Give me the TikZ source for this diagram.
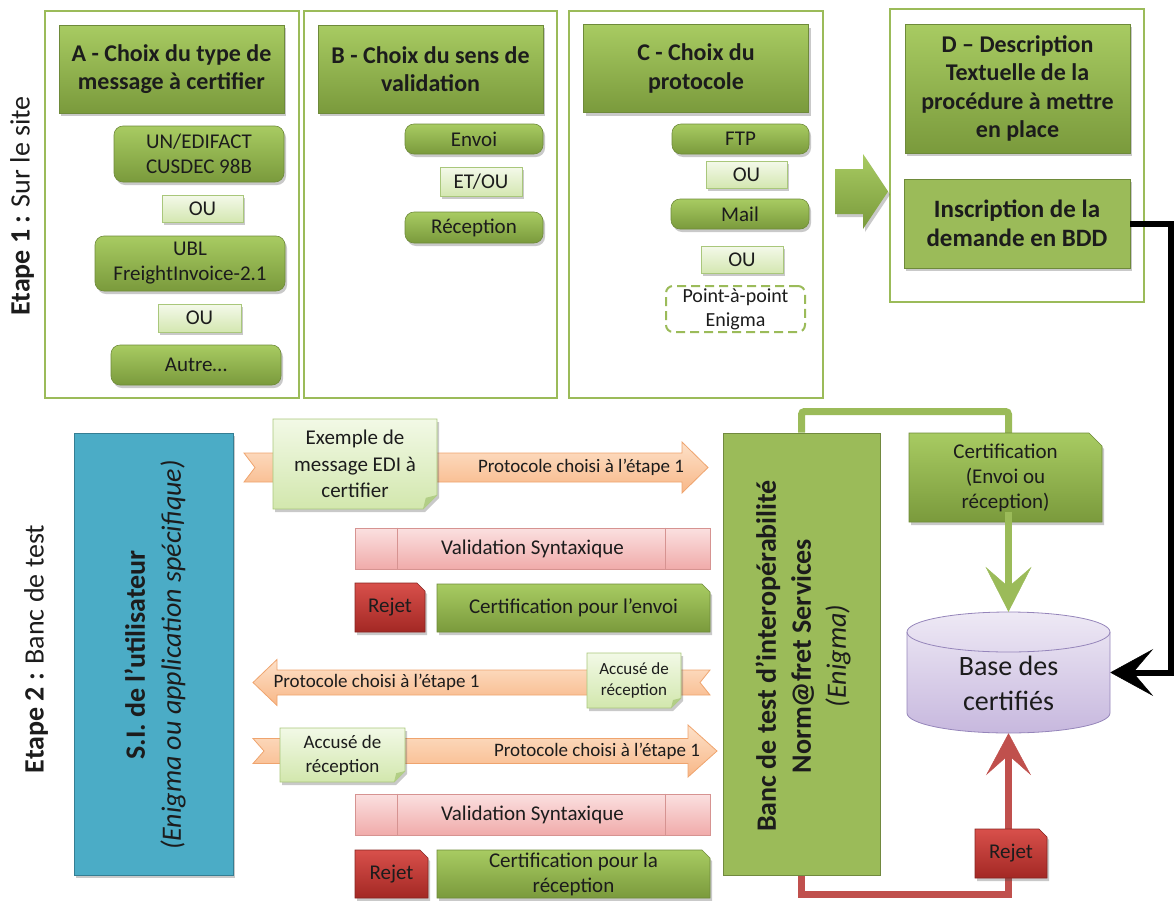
\documentclass[tikz,border=0pt]{standalone}
\usepackage{fontspec}
\setmainfont{Carlito}
\usetikzlibrary{arrows.meta,shadows,calc}
\definecolor{gTop}{HTML}{A8CB62}
\definecolor{gBot}{HTML}{7A9A3C}
\definecolor{gBorder}{HTML}{6E8A3A}
\definecolor{pBorder}{HTML}{9BBB59}
\definecolor{ouTop}{HTML}{F4F9EA}
\definecolor{ouBot}{HTML}{D4E7B1}
\definecolor{ouBorder}{HTML}{A9C77B}
\definecolor{noteTop}{HTML}{F2F9E6}
\definecolor{noteBot}{HTML}{D2E7AD}
\definecolor{noteFold}{HTML}{B2CE86}
\definecolor{orTop}{HTML}{FDE1C9}
\definecolor{orBot}{HTML}{F8B787}
\definecolor{orBorder}{HTML}{EFA46E}
\definecolor{pkTop}{HTML}{FBE0E0}
\definecolor{pkBot}{HTML}{F0ABAA}
\definecolor{pkBorder}{HTML}{D69391}
\definecolor{rdTop}{HTML}{D8504B}
\definecolor{rdBot}{HTML}{A32824}
\definecolor{rdBorder}{HTML}{872420}
\definecolor{cyTop}{HTML}{EEE9F5}
\definecolor{cyBot}{HTML}{C7B8DE}
\definecolor{cyBorder}{HTML}{9585BA}
\definecolor{siFill}{HTML}{4BACC6}
\definecolor{siBorder}{HTML}{357E93}
\definecolor{bancFill}{HTML}{9BBB59}
\definecolor{bancBorder}{HTML}{71893F}
\definecolor{gLine}{HTML}{9BBB59}
\definecolor{rLine}{HTML}{C0504D}
\definecolor{txt}{HTML}{1C1C1C}
\tikzset{
  every node/.style={text=txt},
  panel/.style={draw=pBorder, line width=2.5pt},
  shad/.style={drop shadow={shadow xshift=2pt,shadow yshift=-3pt,opacity=0.3,fill=black!70}},
  hdr/.style={shad, draw=gBorder, line width=0.8pt, top color=gTop, bottom color=gBot,
    minimum width=225pt, minimum height=88pt, align=center,
    font=\fontsize{24}{28.5}\selectfont\bfseries, inner sep=2pt},
  item/.style={shad, rounded corners=9pt, draw=gBorder, line width=0.6pt, top color=gTop,
    bottom color=gBot, align=center, font=\fontsize{21}{25}\selectfont, inner sep=1pt},
  oubox/.style={shad, draw=ouBorder, line width=0.8pt, top color=ouTop, bottom color=ouBot,
    font=\fontsize{21}{25}\selectfont, minimum width=81pt, minimum height=27pt, inner sep=0pt},
  dashbox/.style={draw=pBorder, line width=2pt, dash pattern=on 9pt off 5pt, rounded corners=7pt,
    fill=white, align=center, font=\fontsize{20}{24}\selectfont, inner sep=0pt},
  orarrow/.style={draw=orBorder, line width=0.8pt, top color=orTop, bottom color=orBot},
  note/.style={shad, draw=ouBorder, line width=0.8pt, top color=noteTop, bottom color=noteBot},
  notefold/.style={fill=noteFold},
  gchamf/.style={shad, draw=gBorder, line width=0.6pt, top color=gTop, bottom color=gBot},
  rchamf/.style={shad, draw=rdBorder, line width=0.6pt, top color=rdTop, bottom color=rdBot},
  valbar/.style={draw=pkBorder, line width=0.8pt, top color=pkTop, bottom color=pkBot,
    font=\fontsize{21}{25}\selectfont, inner sep=0pt},
  lbl/.style={font=\fontsize{19}{23}\selectfont, inner sep=0pt},
  gline/.style={draw=gLine, line width=7pt, rounded corners=3pt},
  rline/.style={draw=rLine, line width=7pt, rounded corners=3pt},
  bline/.style={draw=black, line width=6pt},
  bigarr/.style={shad, draw=none, top color=gTop, bottom color=gBot},
}
\newcommand{\notebox}[8]{%
  \draw[note] (#2,#3) -- (#4,#3) -- (#4,{#5-#6}) -- ({#4-#6},#5) -- (#2,#5) -- cycle;
  \fill[notefold] (#4,{#5-#6}) -- ({#4-#6},#5) -- ({#4-0.8*#6},{#5-0.8*#6}) -- cycle;
  \node[font=#7, align=center, inner sep=0pt] (#1) at ({(#2+#4)/2},{(#3+#5)/2}) {#8};}
\newcommand{\chambox}[8]{%
  \draw[#7] (#2,#3) -- ({#4-#6},#3) -- (#4,{#3+#6}) -- (#4,#5) -- (#2,#5) -- cycle;
  \node[align=center, inner sep=0pt, font=\fontsize{21}{25}\selectfont] (#1) at ({(#2+#4)/2},{(#3+#5)/2}) {#8};}
\newcommand{\rarrow}[7]{\draw[orarrow] (#1,{#3-#4}) -- ({#2-#6},{#3-#4}) -- ({#2-#6},{#3-#5}) -- (#2,#3) -- ({#2-#6},{#3+#5}) -- ({#2-#6},{#3+#4}) -- (#1,{#3+#4}) -- ({#1+#7},#3) -- cycle;}
\newcommand{\larrow}[7]{\draw[orarrow] (#1,{#3-#4}) -- ({#2+#6},{#3-#4}) -- ({#2+#6},{#3-#5}) -- (#2,#3) -- ({#2+#6},{#3+#5}) -- ({#2+#6},{#3+#4}) -- (#1,{#3+#4}) -- ({#1-#7},#3) -- cycle;}
\begin{document}
\begin{tikzpicture}[x=1pt,y=-1pt]
\useasboundingbox (0,0) rectangle (1175,900);

% ---------- Etape labels
\node[rotate=90, font=\fontsize{28}{34}\selectfont] (e1) at (22,206) {\textbf{Etape 1 :} Sur le site};
\node[rotate=90, font=\fontsize{28}{34}\selectfont] (e2) at (36,649) {\textbf{Etape 2 :} Banc de test};

% ---------- Panels
\draw[panel] (45,11) rectangle (299,398);
\draw[panel] (304,11) rectangle (557,398);
\draw[panel] (569,11) rectangle (823,398);
\draw[panel] (890,9) rectangle (1144,302);

% ---------- Headers
\node[hdr] (hA) at (171.5,69) {A - Choix du type de\\message à certifier};
\node[hdr] (hB) at (430.5,69) {B - Choix du sens de\\validation};
\node[hdr] (hC) at (696,68.5) {C - Choix du\\protocole};
\node[hdr, minimum height=129pt] (hD) at (1017.5,88.5) {D – Description\\Textuelle de la\\procédure à mettre\\en place};
\node[shad, draw=gBorder, line width=0.8pt, fill=bancFill, minimum width=226pt, minimum height=89pt,
  align=center, font=\fontsize{25}{28.5}\selectfont\bfseries] (insc) at (1017,223.5) {Inscription de la\\demande en BDD};

% ---------- Panel A
\node[item, minimum width=170pt, minimum height=56pt] (edi) at (199,154) {UN/EDIFACT\\CUSDEC 98B};
\node[oubox] (ouA1) at (202.5,208.5) {OU};
\node[item, minimum width=190pt, minimum height=55pt] (ubl) at (190,263.5) {UBL\\FreightInvoice-2.1};
\node[oubox, minimum width=83pt, minimum height=28pt] (ouA2) at (199.5,318) {OU};
\node[item, minimum width=170pt, minimum height=40pt] (autre) at (196,365) {Autre…};

% ---------- Panel B
\node[item, minimum width=138pt, minimum height=30pt] (envoi) at (474,139) {Envoi};
\node[oubox, minimum width=82pt, minimum height=29pt] (etou) at (481,181.5) {ET/OU};
\node[item, minimum width=138pt, minimum height=31pt] (recep) at (474,227.5) {Réception};

% ---------- Panel C
\node[item, minimum width=137pt, minimum height=30pt] (ftp) at (740.5,139) {FTP};
\node[oubox] (ouC1) at (746.5,174.5) {OU};
\node[item, minimum width=138pt, minimum height=30pt] (mail) at (740,214) {Mail};
\node[oubox, minimum width=82pt] (ouC2) at (742,259.5) {OU};
\node[dashbox, minimum width=139pt, minimum height=46pt] (p2p) at (735.5,309) {Point-à-point\\Enigma};

% ---------- Big arrow C -> D
\draw[bigarr] (835,169) -- (863,169) -- (863,154) -- (888,191.5) -- (863,229) -- (863,214) -- (835,214) -- cycle;

% ---------- Black connector
\node[minimum width=203pt, minimum height=121pt, inner sep=0pt] (db) at (1008.5,672.5) {};
\coordinate (bk) at (1171,0);
\draw[bline, -{Stealth[length=43pt,width=47pt,inset=20pt,line width=0.5pt]}] (insc.east) -| (bk |- db.east) -- (db.east);

% ---------- Bottom: SI and Banc
\node[shad, draw=siBorder, line width=1pt, fill=siFill, minimum width=159pt, minimum height=442pt] (si) at (153.5,654) {};
\node[rotate=90, align=center, font=\fontsize{28}{36}\selectfont] (siT) at (155,655) {\textbf{S.I. de l’utilisateur}\\\textit{(Enigma ou application spécifique)}};

% loops (behind boxes)
\node[draw=bancBorder, line width=1pt, fill=bancFill, minimum width=157pt, minimum height=442pt] (banc) at (801.5,654) {};
\draw[gline] (banc.north) -- ++(0,-21) -| (db.north |- 0,440);
\draw[rline, rounded corners=0pt, -{Stealth[length=42pt,width=45pt,inset=20pt,line width=0.5pt]}] (banc.south) -- ++(0,19) -| (db.south);
\node[draw=bancBorder, line width=1pt, fill=bancFill, minimum width=157pt, minimum height=442pt] (banc2) at (801.5,654) {};
\node[rotate=90, align=center, font=\fontsize{28}{35}\selectfont] (bancT) at (803,656) {\textbf{Banc de test d’interopérabilité}\\\textbf{Norm@fret Services}\\\textit{(Enigma)}};

% ---------- Cylinder
\draw[draw=cyBorder, line width=0.8pt, top color=cyTop, bottom color=cyBot]
  (907,713) arc[start angle=180,end angle=360,x radius=101.5pt,y radius=20pt] -- (1110,632)
  arc[start angle=0,end angle=180,x radius=101.5pt,y radius=20pt] -- cycle;
\draw[draw=cyBorder, line width=0.8pt] (907,632) arc[start angle=180,end angle=360,x radius=101.5pt,y radius=20pt];
\node[align=center, font=\fontsize{28}{35}\selectfont] (dbT) at (1008.5,683) {Base des\\certifiés};

% ---------- Certification (right) + arrow
\chambox{cert}{909}{433}{1102}{522}{13}{gchamf}{Certification\\(Envoi ou\\réception)}
\draw[draw=gLine, line width=7pt, -{Stealth[length=45pt,width=46pt,inset=20pt,line width=0.5pt]}] (db.north |- cert.south) -- (db.north);
\chambox{rej3}{975}{829}{1047}{878}{8}{rchamf}{Rejet}

% ---------- Orange arrows
\rarrow{244}{708}{467.5}{14.5}{25.5}{26}{11}
\node[lbl] (l1) at (581,467.5) {Protocole choisi à l’étape 1};
\notebox{n1}{273}{419}{437}{509}{14}{\fontsize{21}{26.5}\selectfont}{Exemple de\\message EDI à\\certifier}

\larrow{710}{253}{682.5}{12.5}{23}{24}{10}
\node[lbl] (l3) at (376.5,682.5) {Protocole choisi à l’étape 1};
\notebox{n2}{587}{653}{681}{708}{10}{\fontsize{17}{21}\selectfont}{Accusé de\\réception}

\rarrow{253}{717}{751}{12.5}{26}{29}{11}
\node[lbl] (l2) at (597,751) {Protocole choisi à l’étape 1};
\notebox{n3}{280}{728}{405}{782}{11}{\fontsize{19}{24}\selectfont}{Accusé de\\réception}

% ---------- Validation bars and results
\node[valbar, minimum width=355pt, minimum height=41pt] (v1) at (532.5,548.5) {Validation Syntaxique};
\draw[draw=pkBorder, line width=0.8pt] ($(v1.north west)+(43,0)$) -- ($(v1.south west)+(43,0)$);
\draw[draw=pkBorder, line width=0.8pt] ($(v1.north east)+(-45,0)$) -- ($(v1.south east)+(-45,0)$);
\chambox{rej1}{355}{583}{425}{632}{8}{rchamf}{Rejet}
\chambox{cenv}{437}{584}{710}{632}{8}{gchamf}{Certification pour l’envoi}

\node[valbar, minimum width=355pt, minimum height=41pt] (v2) at (532.5,814.5) {Validation Syntaxique};
\draw[draw=pkBorder, line width=0.8pt] ($(v2.north west)+(43,0)$) -- ($(v2.south west)+(43,0)$);
\draw[draw=pkBorder, line width=0.8pt] ($(v2.north east)+(-45,0)$) -- ($(v2.south east)+(-45,0)$);
\chambox{rej2}{355}{850}{428}{898}{8}{rchamf}{Rejet}
\chambox{crec}{437}{850}{710}{898}{8}{gchamf}{Certification pour la\\réception}
\end{tikzpicture}
\end{document}
